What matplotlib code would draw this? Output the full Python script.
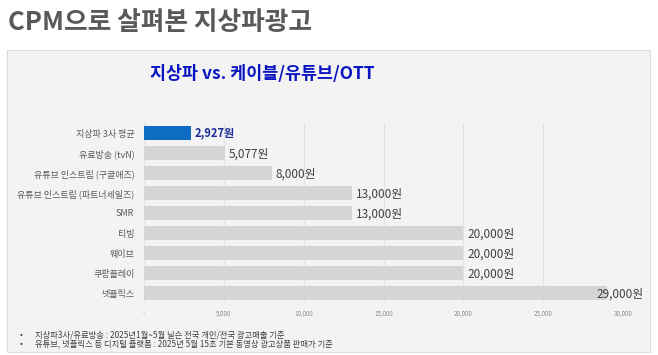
import matplotlib
matplotlib.use("Agg")
import matplotlib.pyplot as plt
from matplotlib.patches import Rectangle
from matplotlib.ticker import FuncFormatter

plt.rcParams['font.family'] = ['Noto Sans CJK KR', 'DejaVu Sans']

categories = ["지상파 3사 평균", "유료방송 (tvN)", "유튜브 인스트림 (구글애즈)",
              "유튜브 인스트림 (파트너세일즈)", "SMR", "티빙", "웨이브", "쿠팡플레이", "넷플릭스"]
values = [2927, 5077, 8000, 13000, 13000, 20000, 20000, 20000, 29000]
value_labels = ["2,927원", "5,077원", "8,000원", "13,000원", "13,000원",
                "20,000원", "20,000원", "20,000원", "29,000원"]
xticks = [0, 5000, 10000, 15000, 20000, 25000, 30000]
main_title = "CPM으로 살펴본 지상파광고"
chart_title = "지상파 vs. 케이블/유튜브/OTT"
footnotes = ["지상파3사/유료방송 : 2025년1월~5월 닐슨 전국 개인/전국 광고매출 기준",
             "유튜브, 넷플릭스 등 디지털 플랫폼 : 2025년 5월 15초 기본 동영상 광고상품 판매가 기준"]

W, H = 658, 355
fig = plt.figure(figsize=(W / 100, H / 100), dpi=100)
fig.patch.set_facecolor("white")

# panel
fig.patches.append(Rectangle((7 / W, 1 - 352 / H), (650 - 7) / W, (352 - 50) / H,
                             transform=fig.transFigure, facecolor="#f3f3f3",
                             edgecolor="#dcdcdc", linewidth=0.8, zorder=-5))

fig.text(8 / W, 1 - 23 / H, main_title, fontsize=18.5, color="#595959",
         fontweight="bold", ha="left", va="center")
fig.text(262 / W, 1 - 74 / H, chart_title, fontsize=12.5, color="#0a14c0",
         fontweight="bold", ha="center", va="center")

ax = fig.add_axes([144 / W, 1 - 303 / H, (623 - 144) / W, (303 - 123) / H])
ax.set_zorder(2)
ax.set_facecolor("none")
y = list(range(len(categories)))
colors = ["#0e6cc2"] + ["#d5d5d5"] * (len(categories) - 1)
ax.barh(y, values, height=0.66, color=colors, zorder=2)
ax.set_xlim(0, 30000)
ax.set_ylim(len(categories) - 0.5, -0.5)
ax.set_yticks(y)
ax.set_yticklabels(categories, fontsize=6.5, color="#595959")
ax.set_xticks(xticks)
ax.xaxis.set_major_formatter(FuncFormatter(lambda v, p: "-" if v == 0 else f"{int(v):,}"))
ax.tick_params(axis="x", labelsize=4.5, labelcolor="#8c8c8c", length=0, pad=5)
ax.tick_params(axis="y", length=0, pad=7)
for s in ax.spines.values():
    s.set_visible(False)
ax.grid(axis="x", color="#e2e2e2", linewidth=0.8, zorder=1)
ax.set_axisbelow(True)

for i, (v, lab) in enumerate(zip(values, value_labels)):
    if i == 0:
        ax.text(v + 250, i, lab, va="center", ha="left", fontsize=8,
                fontweight="bold", color="#1a2a9a", zorder=3)
    elif v >= 29000:
        ax.text(v - 650, i + 0.05, lab, va="center", ha="left", fontsize=8.5,
                color="#404040", zorder=3, clip_on=False)
    else:
        ax.text(v + 250, i + 0.05, lab, va="center", ha="left", fontsize=8.5,
                color="#404040", zorder=3)

for k, t in enumerate(footnotes):
    yy = 1 - (335 + 8.5 * k) / H
    fig.text(20 / W, yy, "•", fontsize=6, color="#404040", ha="left", va="center")
    fig.text(35 / W, yy, t, fontsize=6, color="#404040", ha="left", va="center")

fig.savefig("out.png", dpi=100, facecolor=fig.get_facecolor())
